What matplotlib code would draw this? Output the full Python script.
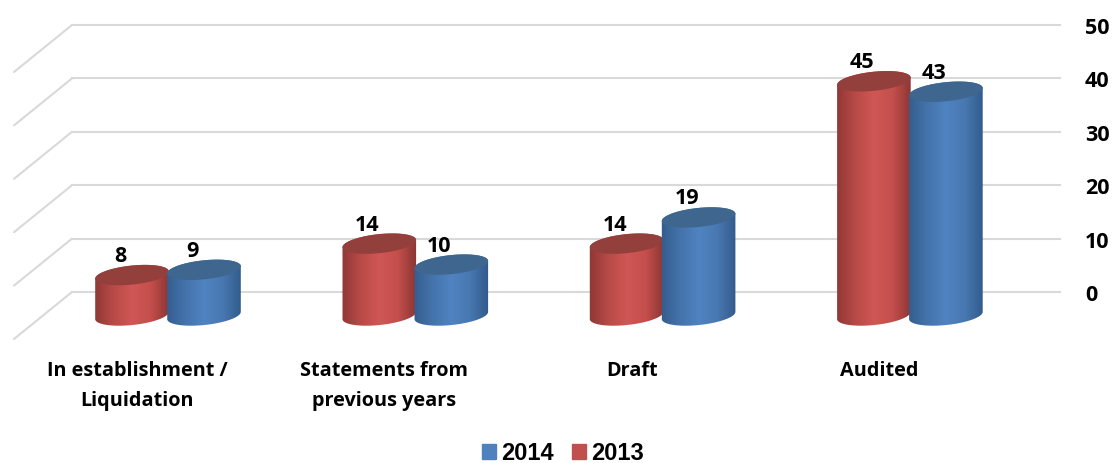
"""Pseudo-3D cylinder chart of statements by type, 2013 vs 2014."""

import matplotlib

matplotlib.use("Agg")

import matplotlib.pyplot as plt
import numpy as np
from matplotlib.colors import LinearSegmentedColormap
from matplotlib.patches import Patch, Polygon
from matplotlib.transforms import ScaledTranslation

CATEGORIES = ["In establishment /\nLiquidation", "Statements from\nprevious years", "Draft", "Audited"]
VALUES_2013 = [8, 14, 14, 45]
VALUES_2014 = [9, 10, 19, 43]
Y_TICKS = [0, 10, 20, 30, 40, 50]

# figure pixels per data unit
PX_X = 247.3
PX_Y = 5.34

RED_BODY = ["#8f3735", "#b74a47", "#d05755", "#c44f4c", "#8a3533"]
BLUE_BODY = ["#345d8e", "#4473ab", "#5083c2", "#4878b1", "#315a8a"]
RED_TOP = "#93403d"
BLUE_TOP = "#3f668f"
GRID = "#d9d9d9"
LABEL_FONT = ["Open Sans", "DejaVu Sans"]


def ellipse(cx, cy, t):
    # slightly tilted ellipse, returned in data units
    a, b, tilt = 37, 9.5, np.radians(6)
    dx = a * np.cos(t) * np.cos(tilt) - b * np.sin(t) * np.sin(tilt)
    dy = a * np.cos(t) * np.sin(tilt) + b * np.sin(t) * np.cos(tilt)
    return np.column_stack([cx + dx / PX_X, cy + dy / PX_Y])


def cylinder(ax, x, value, colors, top_color, zorder):
    top = value * 0.981 - 4.68
    floor = -4.4
    outline = np.vstack([
        ellipse(x, floor, np.linspace(np.pi, 2 * np.pi, 40)),
        ellipse(x, top, np.linspace(0, np.pi, 40)),
    ])
    body = Polygon(outline, closed=True, fc="none", ec="none", clip_on=False, zorder=zorder)
    ax.add_patch(body)
    cmap = LinearSegmentedColormap.from_list("body", colors)
    im = ax.imshow(
        np.linspace(0, 1, 128).reshape(1, -1), cmap=cmap, aspect="auto", zorder=zorder,
        extent=(x - 38 / PX_X, x + 38 / PX_X, floor - 2.5, top + 2.5),
    )
    im.set_clip_path(body)
    im.set_clip_box(ax.figure.bbox)
    ax.add_patch(Polygon(
        ellipse(x, top, np.linspace(0, 2 * np.pi, 80)), closed=True,
        fc=top_color, ec="none", clip_on=False, zorder=zorder + 0.1,
    ))
    ax.annotate(
        str(value), (x, top), xytext=(-12 * 0.72, 19.5 * 0.72), textcoords="offset points",
        ha="center", va="center", fontsize=15.5, fontweight="bold", family=LABEL_FONT,
        color="black", zorder=10, annotation_clip=False,
    )


def main():
    fig = plt.figure(figsize=(11.14, 4.64), dpi=100)
    ax = fig.add_axes([72 / 1114, 1 - 293 / 464, 988 / 1114, 267 / 464])
    ax.set_xlim(-96 / PX_X, 892 / PX_X)
    ax.set_ylim(0, 50)
    ax.set_autoscale_on(False)
    xlim = ax.get_xlim()

    for tick in Y_TICKS:
        ax.plot([xlim[0], xlim[0] - 58 / PX_X], [tick, tick - 47 / PX_Y], color=GRID, lw=1.5,
                clip_on=False, zorder=1, solid_capstyle="round")
    ax.set_yticks(Y_TICKS)
    ax.grid(axis="y", color=GRID, lw=1.5, zorder=1)
    ax.set_axisbelow(True)
    for gridline in ax.get_ygridlines():
        gridline.set_clip_on(False)

    for i in range(len(CATEGORIES)):
        cylinder(ax, i - 36 / PX_X, VALUES_2013[i], RED_BODY, RED_TOP, 3 + i)
        cylinder(ax, i + 36 / PX_X, VALUES_2014[i], BLUE_BODY, BLUE_TOP, 3.5 + i)

    ax.set_xlim(xlim)
    ax.set_ylim(0, 50)
    for spine in ax.spines.values():
        spine.set_visible(False)
    ax.yaxis.tick_right()
    ax.tick_params(axis="y", length=0, pad=18)
    ax.tick_params(axis="x", length=0, pad=49)
    ax.set_xticks(range(len(CATEGORIES)))
    ax.set_xticklabels(CATEGORIES, linespacing=1.68)
    shift = ScaledTranslation(-31 / 100, 0, fig.dpi_scale_trans)
    for label in ax.get_xticklabels():
        label.set(fontsize=14.3, fontweight="bold", family=LABEL_FONT, va="top")
        label.set_transform(label.get_transform() + shift)
    for label in ax.get_yticklabels():
        label.set(fontsize=15.5, fontweight="bold", family=LABEL_FONT)

    handles = [Patch(color="#4f81bd", label="2014"), Patch(color="#c0504d", label="2013")]
    fig.legend(
        handles=handles, loc="center", bbox_to_anchor=(563 / 1114, 1 - 454 / 464), ncol=2,
        frameon=False, handlelength=0.6, handleheight=0.6, handletextpad=0.22, columnspacing=0.76,
        borderpad=0, prop={"family": "Liberation Sans", "weight": "bold", "size": 17},
    )
    fig.savefig("out.png", dpi=100)


if __name__ == "__main__":
    main()
